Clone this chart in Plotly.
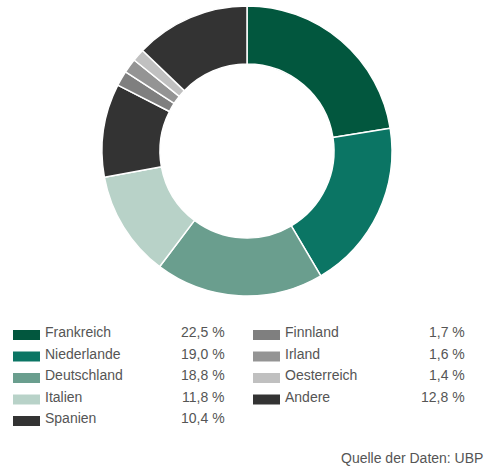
import plotly.graph_objects as go

countries = ["Frankreich", "Niederlande", "Deutschland", "Italien", "Spanien",
             "Finnland", "Irland", "Oesterreich", "Andere"]
shares = [22.5, 19.0, 18.8, 11.8, 10.4, 1.7, 1.6, 1.4, 12.8]
share_labels = ["22,5 %", "19,0 %", "18,8 %", "11,8 %", "10,4 %",
                "1,7 %", "1,6 %", "1,4 %", "12,8 %"]
colors = ["#02573e", "#0b7564", "#6a9e8e", "#b8d2c8", "#333333",
          "#7f7f7f", "#949494", "#c0c0c0", "#333333"]
source = "Quelle der Daten: UBP"

W, H = 488, 473
FONT = "Liberation Sans"
TXT = "#555555"

def px(x):
    return x / W

def py(y):
    return 1 - y / H

fig = go.Figure()
fig.add_trace(go.Pie(
    labels=countries, values=shares, hole=0.6, sort=False,
    direction="clockwise", rotation=0,
    marker=dict(colors=colors, line=dict(color="white", width=1.5)),
    textinfo="none", hoverinfo="label+percent",
    domain=dict(x=[px(102), px(392)], y=[py(296), py(6)]),
    showlegend=False,
))

shapes = []
annotations = []
row_y0 = 332
row_dy = 21.5
col_x = [13, 253]
val_right = [227, 467]
for i, (name, lab, col) in enumerate(zip(countries, share_labels, colors)):
    c, r = divmod(i, 5)
    yc = row_y0 + r * row_dy
    sx = col_x[c]
    shapes.append(dict(type="rect", xref="paper", yref="paper",
                       x0=px(sx), x1=px(sx + 27), y0=py(yc + 8), y1=py(yc - 2),
                       fillcolor=col, line=dict(width=0)))
    annotations.append(dict(x=px(sx + 30), y=py(yc), xref="paper", yref="paper",
                            text=name, showarrow=False, xanchor="left", yanchor="middle",
                            font=dict(family=FONT, size=14, color=TXT)))
    annotations.append(dict(x=px(val_right[c]), y=py(yc), xref="paper", yref="paper",
                            text=lab, showarrow=False, xanchor="right", yanchor="middle",
                            font=dict(family=FONT, size=14, color=TXT)))

annotations.append(dict(x=px(485), y=py(458), xref="paper", yref="paper",
                        text=source, showarrow=False, xanchor="right", yanchor="middle",
                        font=dict(family=FONT, size=14, color=TXT)))

fig.update_layout(
    width=W, height=H, margin=dict(l=0, r=0, t=0, b=0),
    paper_bgcolor="white", plot_bgcolor="white",
    shapes=shapes, annotations=annotations,
)
fig.write_html("out.html", config={"displayModeBar": False},
               post_script="document.body.style.margin='0';document.body.style.overflow='hidden';")
